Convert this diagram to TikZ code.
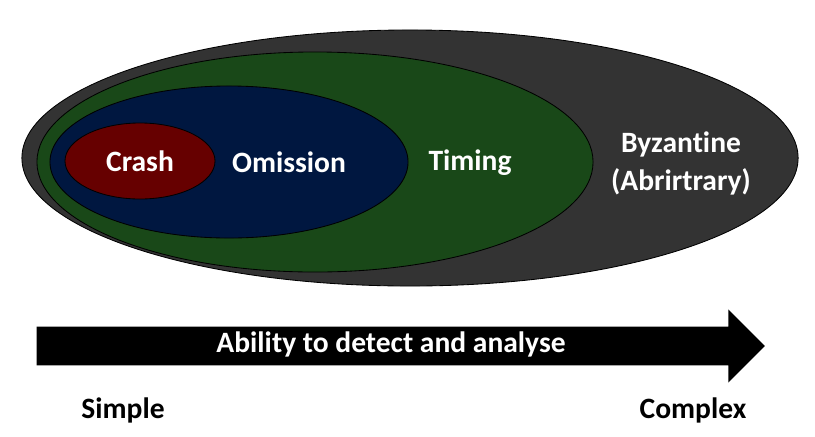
\documentclass[tikz,border=0pt]{standalone}
\usepackage{fontspec}
\setmainfont{Carlito}[Ligatures=NoCommon]
\usetikzlibrary{shapes.geometric,shapes.arrows}

\definecolor{byzgray}{RGB}{51,51,51}
\definecolor{timgreen}{RGB}{25,72,24}
\definecolor{omiblue}{RGB}{0,23,64}
\definecolor{crared}{RGB}{102,0,0}

\tikzset{
  fault/.style={ellipse, draw=black, line width=0.6pt, inner sep=0pt},
  lbl/.style={text=white, font=\fontsize{21}{27}\selectfont\bfseries, align=center},
}

\begin{document}
\begin{tikzpicture}[x=0.025cm, y=-0.025cm]
        \useasboundingbox (0,0) rectangle (815,436);
        \node[fault, fill=byzgray, minimum width=19.4cm, minimum height=6.4cm] (byz) at (410,158) {};
        \node[fault, fill=timgreen, minimum width=13.9cm, minimum height=5.5cm] (tim) at (315,162) {};
        \node[fault, fill=omiblue, minimum width=8.95cm, minimum height=3.8cm] (omi) at (229,162) {};
        \node[fault, fill=crared, minimum width=3.75cm, minimum height=1.9cm] (cra) at (140,161) {};
        \node[lbl] (cralbl) at (cra) {Crash};
        \node[lbl] (omilbl) at (289,162) {Omission};
        \node[lbl] (timlbl) at (470,163) {Timing};
        \node[lbl] (byzlbl) at (681,163) {Byzantine\\(Abrirtrary)};
        \node[single arrow, fill=black, inner xsep=0pt, inner ysep=0.1875cm,
              text height=0.45cm, text depth=0.12cm,
              single arrow head extend=0.425cm, single arrow tip angle=90,
              minimum height=18.2cm, minimum width=1.825cm, lbl] (axis) at (391,346) {Ability to detect and analyse};
        \node[lbl, text=black] (simple) at (123,410) {Simple};
        \node[lbl, text=black] (complex) at (693,410) {Complex};
    \end{tikzpicture}
\end{document}
